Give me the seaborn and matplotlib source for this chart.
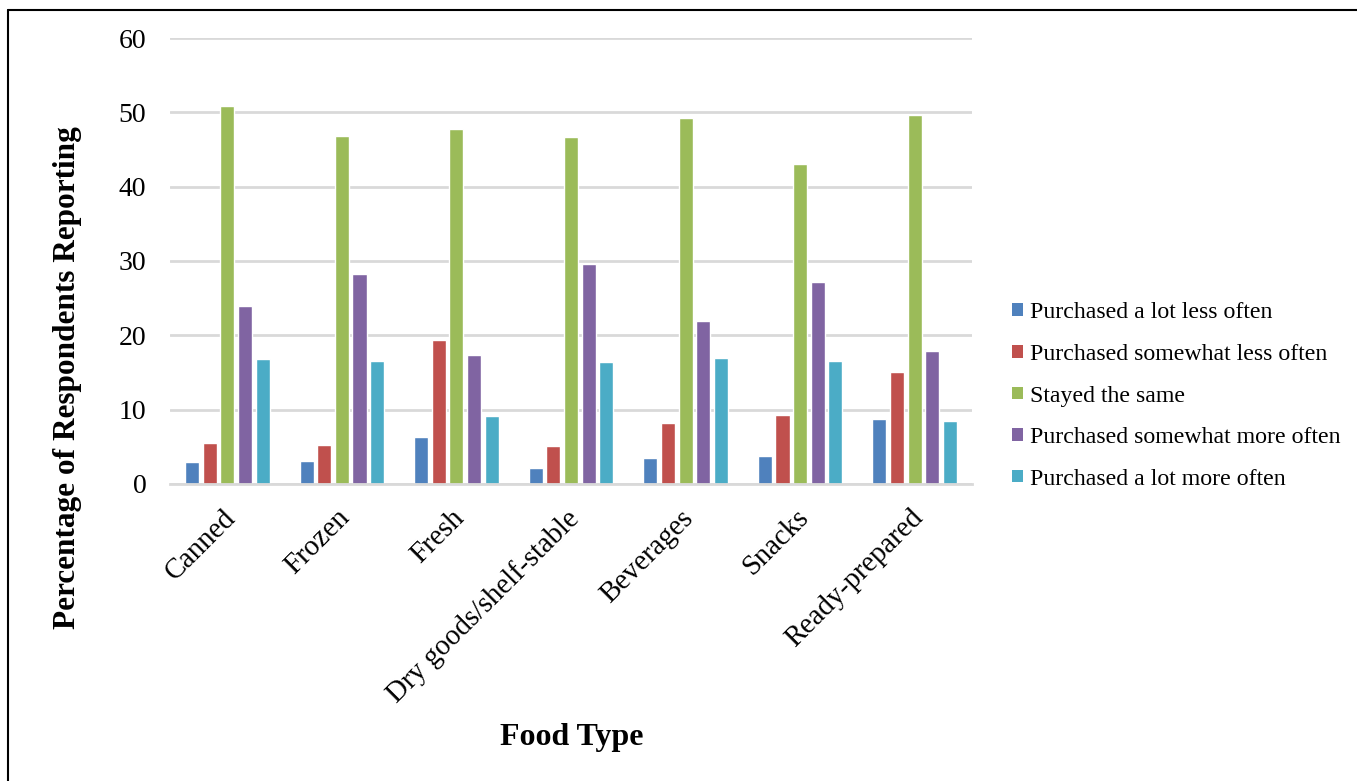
import matplotlib
matplotlib.use("Agg")
import matplotlib.pyplot as plt
import matplotlib.transforms as mtransforms
import seaborn as sns
import pandas as pd
from matplotlib.lines import Line2D
from matplotlib.patches import Patch

categories = ["Canned", "Frozen", "Fresh", "Dry goods/shelf-stable",
              "Beverages", "Snacks", "Ready-prepared"]
series_names = ["Purchased a lot less often", "Purchased somewhat less often",
                "Stayed the same", "Purchased somewhat more often",
                "Purchased a lot more often"]
lot_less = [2.9, 3.1, 6.3, 2.2, 3.5, 3.8, 8.8]
somewhat_less = [5.5, 5.3, 19.4, 5.1, 8.2, 9.3, 15.0]
same = [50.9, 46.8, 47.8, 46.7, 49.3, 43.0, 49.6]
somewhat_more = [23.9, 28.2, 17.3, 29.6, 21.9, 27.2, 17.9]
lot_more = [16.8, 16.6, 9.1, 16.4, 17.0, 16.6, 8.5]
colors = ["#4F81BD", "#C0504D", "#9BBB59", "#8064A2", "#4BACC6"]
yticks = [0, 10, 20, 30, 40, 50, 60]

rows = []
for s, vals in zip(series_names, [lot_less, somewhat_less, same, somewhat_more, lot_more]):
    for c, v in zip(categories, vals):
        rows.append({"Food Type": c, "Series": s, "Value": v})
df = pd.DataFrame(rows)

sns.set_theme(style="white")
plt.rcParams["font.family"] = ["Liberation Serif", "DejaVu Serif"]
plt.rcParams["text.color"] = "black"
plt.rcParams["xtick.color"] = "black"
plt.rcParams["ytick.color"] = "black"

fig = plt.figure(figsize=(13.57, 7.81), dpi=100)
ax = fig.add_axes([170/1357, 1-484/781, (972-170)/1357, (484-38)/781])

sns.barplot(data=df, x="Food Type", y="Value", hue="Series", order=categories,
            hue_order=series_names, palette=colors, width=0.77, gap=0.2,
            saturation=1, ax=ax, legend=False, errorbar=None)

ax.set_ylim(0, 60)
ax.set_xlim(-0.5, len(categories) - 0.5)
ax.set_yticks(yticks)
ax.set_yticklabels([str(t) for t in yticks], fontsize=20, color="black")
ax.yaxis.grid(True, color="#D9D9D9", linewidth=2)
ax.set_axisbelow(True)
for side in ["top", "right", "left"]:
    ax.spines[side].set_visible(False)
ax.spines["bottom"].set_color("#D9D9D9")
ax.spines["bottom"].set_linewidth(2)
ax.tick_params(axis="y", length=0, pad=17)
ax.tick_params(axis="x", length=0, pad=15)
ax.set_xticks(range(len(categories)))
ax.set_xticklabels(categories, rotation=45, ha="right", rotation_mode="anchor",
                   fontsize=20.6, color="black")
offset = mtransforms.ScaledTranslation(-5/100, 0, fig.dpi_scale_trans)
for lab in ax.get_xticklabels():
    lab.set_transform(lab.get_transform() + offset)

ax.set_xlabel("")
ax.set_ylabel("")
fig.text(68/1357, 1-378/781, "Percentage of Respondents Reporting", rotation=90,
         ha="center", va="center", fontsize=22.5, fontweight="bold", color="black")
fig.text(572/1357, 1-737/781, "Food Type", ha="center", va="center",
         fontsize=23, fontweight="bold", color="black")

handles = [Patch(facecolor=c, edgecolor="none") for c in colors]
leg = fig.legend(handles, series_names, loc="center left",
                 bbox_to_anchor=(991/1357, 1-396/781), frameon=False, fontsize=17.2,
                 handlelength=0.45, handleheight=0.45, handletextpad=0.3, labelspacing=0.86)
for t in leg.get_texts():
    t.set_color("black")

# outer frame (top and left edges)
fig.add_artist(Line2D([8/1357, 8/1357], [0, 1-10/781], color="black", linewidth=1.5,
                      transform=fig.transFigure))
fig.add_artist(Line2D([8/1357, 1], [1-10/781, 1-10/781], color="black", linewidth=1.5,
                      transform=fig.transFigure))

fig.savefig("out.png", dpi=100, facecolor="white")
